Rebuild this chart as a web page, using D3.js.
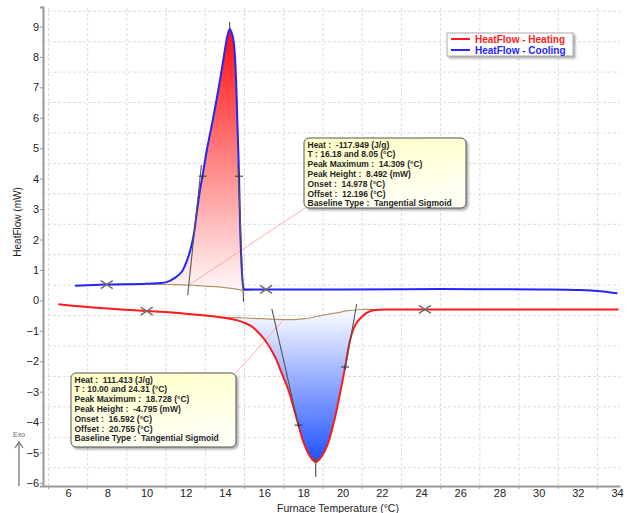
<!DOCTYPE html>
<html>
<head>
<meta charset="utf-8">
<script src="https://cdn.jsdelivr.net/npm/d3@7"></script>
<style>
  body { margin: 0; background: #fff; }
  text { font-family: "Liberation Sans", Arial, sans-serif; }
</style>
</head>
<body>
<div id="graphic"></div>
<script>
// DSC heat flow chart, heating + cooling

var W = 627, H = 513;
var margin = { top: 7, right: 7, bottom: 27, left: 43 };

// axis data
var xMin = 4.72, xMax = 34.15, yMin = -6.1, yMax = 9.64;
var xLabelTicks = [6, 8, 10, 12, 14, 16, 18, 20, 22, 24, 26, 28, 30, 32, 34];
var xGridTicks = [5, 7, 9, 11, 13, 15, 17, 19, 21, 23, 25, 27, 29, 31, 33];
var yLabelTicks = [-6, -5, -4, -3, -2, -1, 0, 1, 2, 3, 4, 5, 6, 7, 8, 9];
var yGridTicks = [-5.5, -4.5, -3.5, -2.5, -1.5, -0.5, 0.5, 1.5, 2.5, 3.5, 4.5, 5.5, 6.5, 7.5, 8.5, 9.5];

// cooling curve (blue)
var coolT = [6.35, 7.97, 9.98, 11.03, 11.45, 11.8, 12.13, 12.39, 12.56, 12.73, 12.86, 13.08, 13.38, 13.69, 13.97, 14.12, 14.24,
  14.27, 14.40, 14.50, 14.58, 14.63, 14.68, 14.72, 14.78, 14.86, 14.92, 14.98, 15.2, 16.1, 20, 25, 30.08, 32.12, 33.14, 34.02];
var coolHF = [0.48, 0.52, 0.55, 0.6, 0.74, 0.94, 1.43, 2.09, 2.86, 3.63, 4.1, 4.95, 5.93, 7.02, 8.12, 8.67, 8.92,
  8.9, 8.67, 8.12, 7.02, 5.93, 4.94, 4.08, 2.3, 1.0, 0.5, 0.37, 0.36, 0.36, 0.36, 0.37, 0.36, 0.34, 0.30, 0.23];
var coolBaseT = [7.97, 10.0, 11.5, 12.5, 13.3, 14.0, 14.6, 14.95, 15.5, 16.1];
var coolBaseHF = [0.52, 0.53, 0.52, 0.49, 0.46, 0.42, 0.37, 0.33, 0.35, 0.36];

// heating curve (red)
var heatT = [5.5, 7.0, 8.5, 10.01, 11.88, 13.58, 14.6, 15.28, 15.54, 16.05, 16.56, 16.9, 17.24, 17.49, 17.75, 18.0, 18.26, 18.46,
  18.63, 18.85, 19.11, 19.36, 19.62, 19.87, 20.13, 20.38, 20.64, 20.98, 21.32, 21.66, 22.5, 24.2, 28, 34.07];
var heatHF = [-0.13, -0.22, -0.29, -0.35, -0.43, -0.54, -0.65, -0.82, -0.95, -1.31, -1.86, -2.40, -2.95, -3.5, -4.1, -4.65, -5.04, -5.23,
  -5.31, -5.2, -4.93, -4.49, -3.83, -3.06, -2.19, -1.31, -0.82, -0.54, -0.38, -0.32, -0.3, -0.3, -0.3, -0.3];
var heatBaseT = [10.01, 12.0, 13.6, 14.6, 15.5, 16.5, 17.5, 18.1, 18.9, 19.6, 20.3, 20.9, 21.7, 24.2];
var heatBaseHF = [-0.35, -0.44, -0.54, -0.57, -0.59, -0.62, -0.63, -0.6, -0.5, -0.42, -0.34, -0.30, -0.30, -0.30];

// peak analysis marks
var limitMarks = [[7.97, 0.52], [16.1, 0.36], [10.01, -0.35], [24.2, -0.3]];
var inflMarks = [[12.86, 4.08], [14.72, 4.08], [17.75, -4.1], [20.13, -2.19]];
var tangents = [
  [[12.10, 0.17], [12.80, 4.45]],
  [[14.95, -0.05], [14.66, 4.5]],
  [[16.39, -0.27], [17.78, -4.2]],
  [[20.72, -0.12], [20.12, -2.3]]
];
var peakTicks = [[14.24, 8.92, 9.15], [18.63, -5.1, -5.8]];

var coolText = ["Heat :  -117.949 (J/g)", "T : 16.18 and 8.05 (°C)", "Peak Maximum :  14.309 (°C)", "Peak Height :  8.492 (mW)",
  "Onset :  14.978 (°C)", "Offset :  12.196 (°C)", "Baseline Type :  Tangential Sigmoid"];
var heatText = ["Heat :  111.413 (J/g)", "T : 10.00 and 24.31 (°C)", "Peak Maximum :  18.728 (°C)", "Peak Height :  -4.795 (mW)",
  "Onset :  16.592 (°C)", "Offset :  20.755 (°C)", "Baseline Type :  Tangential Sigmoid"];
var seriesNames = ["HeatFlow - Heating", "HeatFlow - Cooling"];
var seriesColors = ["#ff1a1a", "#2424ff"];

var svg = d3.select("#graphic").append("svg")
  .attr("width", W)
  .attr("height", H);

var x = d3.scaleLinear().domain([xMin, xMax]).range([margin.left, W - margin.right]);
var y = d3.scaleLinear().domain([yMin, yMax]).range([H - margin.bottom, margin.top]);

var defs = svg.append("defs");

var g1 = defs.append("linearGradient").attr("id", "coolFill")
  .attr("gradientUnits", "userSpaceOnUse")
  .attr("x1", 0).attr("x2", 0).attr("y1", y(8.92)).attr("y2", y(0.4));
g1.append("stop").attr("offset", 0).attr("stop-color", "#ff0d0d");
g1.append("stop").attr("offset", 1).attr("stop-color", "#fff6f6");

var g2 = defs.append("linearGradient").attr("id", "heatFill")
  .attr("gradientUnits", "userSpaceOnUse")
  .attr("x1", 0).attr("x2", 0).attr("y1", y(-0.45)).attr("y2", y(-5.31));
g2.append("stop").attr("offset", 0).attr("stop-color", "#f6f8ff");
g2.append("stop").attr("offset", 1).attr("stop-color", "#1f50ff");

var g3 = defs.append("linearGradient").attr("id", "boxFill")
  .attr("x1", 0).attr("x2", 0.3).attr("y1", 0).attr("y2", 1);
g3.append("stop").attr("offset", 0).attr("stop-color", "#ffffc4");
g3.append("stop").attr("offset", 1).attr("stop-color", "#fffff4");

var shadow = defs.append("filter").attr("id", "shadow")
  .attr("x", "-10%").attr("y", "-10%").attr("width", "130%").attr("height", "140%");
shadow.append("feDropShadow").attr("dx", 2).attr("dy", 2).attr("stdDeviation", 1)
  .attr("flood-color", "#777").attr("flood-opacity", 0.6);

// grid
svg.append("g").selectAll("line").data(xGridTicks).enter().append("line")
  .attr("x1", function (d) { return x(d); }).attr("x2", function (d) { return x(d); })
  .attr("y1", y(yMin)).attr("y2", y(yMax))
  .attr("stroke", "#dcdcdc").attr("stroke-dasharray", "3,2");
svg.append("g").selectAll("line").data(yGridTicks).enter().append("line")
  .attr("x1", x(xMin)).attr("x2", x(xMax))
  .attr("y1", function (d) { return y(d); }).attr("y2", function (d) { return y(d); })
  .attr("stroke", "#dcdcdc").attr("stroke-dasharray", "3,2");

function zip(ts, vs) {
  return ts.map(function (t, i) { return [t, vs[i]]; });
}
var cool = zip(coolT, coolHF), heat = zip(heatT, heatHF);
var coolBase = zip(coolBaseT, coolBaseHF), heatBase = zip(heatBaseT, heatBaseHF);

var line = d3.line()
  .x(function (d) { return x(d[0]); })
  .y(function (d) { return y(d[1]); })
  .curve(d3.curveCatmullRom.alpha(0.5));

function peakArea(curve, base) {
  var lo = base[0][0], hi = base[base.length - 1][0];
  var seg = curve.filter(function (d) { return d[0] >= lo && d[0] <= hi; });
  var back = base.slice().reverse();
  return line(seg) + "L" + line(back).slice(1) + "Z";
}

// peak fills
svg.append("path").attr("d", peakArea(cool, coolBase)).attr("fill", "url(#coolFill)");
svg.append("path").attr("d", peakArea(heat, heatBase)).attr("fill", "url(#heatFill)");

// baselines
[coolBase, heatBase].forEach(function (b) {
  svg.append("path").attr("d", line(b))
    .attr("fill", "none").attr("stroke", "#b8926a").attr("stroke-width", 1.2);
});

// leader lines to the boxes
svg.append("line")
  .attr("x1", x(12.15)).attr("y1", y(0.5)).attr("x2", 305).attr("y2", 208)
  .attr("stroke", "#ff8c8c").attr("stroke-width", 0.7);
svg.append("line")
  .attr("x1", x(16.96)).attr("y1", y(-0.66)).attr("x2", 235).attr("y2", 374)
  .attr("stroke", "#ff8c8c").attr("stroke-width", 0.7);

// curves
svg.append("path").attr("d", line(heat))
  .attr("fill", "none").attr("stroke", seriesColors[0]).attr("stroke-width", 2);
svg.append("path").attr("d", line(cool))
  .attr("fill", "none").attr("stroke", seriesColors[1]).attr("stroke-width", 2);

// tangents
svg.append("g").selectAll("line").data(tangents).enter().append("line")
  .attr("x1", function (d) { return x(d[0][0]); }).attr("y1", function (d) { return y(d[0][1]); })
  .attr("x2", function (d) { return x(d[1][0]); }).attr("y2", function (d) { return y(d[1][1]); })
  .attr("stroke", "#555").attr("stroke-width", 1.1);

// peak ticks
svg.append("g").selectAll("line").data(peakTicks).enter().append("line")
  .attr("x1", function (d) { return x(d[0]); }).attr("x2", function (d) { return x(d[0]); })
  .attr("y1", function (d) { return y(d[1]); }).attr("y2", function (d) { return y(d[2]); })
  .attr("stroke", "#555").attr("stroke-width", 1.2);

// inflection marks
var inf = svg.append("g").attr("stroke", "#333").attr("stroke-width", 1);
inflMarks.forEach(function (d) {
  inf.append("line").attr("x1", x(d[0]) - 4).attr("x2", x(d[0]) + 4).attr("y1", y(d[1])).attr("y2", y(d[1]));
  inf.append("line").attr("x1", x(d[0])).attr("x2", x(d[0])).attr("y1", y(d[1]) - 2).attr("y2", y(d[1]) + 2);
});

// integration limits
var lim = svg.append("g").attr("stroke", "#6e6e6e").attr("stroke-width", 1.5);
limitMarks.forEach(function (d) {
  var cx = x(d[0]), cy = y(d[1]);
  lim.append("line").attr("x1", cx - 6).attr("y1", cy - 4).attr("x2", cx + 6).attr("y2", cy + 4);
  lim.append("line").attr("x1", cx - 6).attr("y1", cy + 4).attr("x2", cx + 6).attr("y2", cy - 4);
});

// axes
var xAxis = svg.append("g")
  .attr("transform", "translate(0," + y(yMin) + ")")
  .call(d3.axisBottom(x).tickValues(xLabelTicks).tickSize(0).tickPadding(3).tickFormat(d3.format("d")));
svg.append("g").selectAll("line").data(xGridTicks).enter().append("line")
  .attr("x1", function (d) { return x(d); }).attr("x2", function (d) { return x(d); })
  .attr("y1", y(yMin)).attr("y2", y(yMin) + 3)
  .attr("stroke", "#999");
var yAxis = svg.append("g")
  .attr("transform", "translate(" + x(xMin) + ",0)")
  .call(d3.axisLeft(y).tickValues(yLabelTicks).tickSize(3).tickPadding(1).tickFormat(d3.format("d")));
[xAxis, yAxis].forEach(function (a) {
  a.select(".domain").attr("stroke", "#9a9a9a").attr("stroke-width", 2);
  a.selectAll(".tick line").attr("stroke", "#999");
  a.selectAll("text").attr("font-size", 11).attr("fill", "#222")
    .attr("font-family", "Liberation Sans, Arial, sans-serif");
});

svg.append("text")
  .attr("x", 338).attr("y", 511.5)
  .attr("text-anchor", "middle").attr("font-size", 10.5).attr("fill", "#222")
  .text("Furnace Temperature (°C)");
svg.append("text")
  .attr("transform", "translate(21,222) rotate(-90)")
  .attr("text-anchor", "middle").attr("font-size", 10).attr("fill", "#222")
  .text("HeatFlow (mW)");

// Exo arrow
svg.append("line").attr("x1", 19).attr("x2", 19).attr("y1", 486).attr("y2", 443)
  .attr("stroke", "#777").attr("stroke-width", 1.3);
svg.append("path").attr("d", "M15,448 L19,442 L23,448")
  .attr("fill", "none").attr("stroke", "#777").attr("stroke-width", 1.3);
svg.append("text").attr("x", 19).attr("y", 437).attr("text-anchor", "middle")
  .attr("font-size", 7).attr("fill", "#666").text("Exo");

// annotation boxes
function infoBox(bx, by, bw, bh, lines) {
  var b = svg.append("g");
  b.append("rect").attr("x", bx).attr("y", by).attr("width", bw).attr("height", bh)
    .attr("rx", 5).attr("fill", "url(#boxFill)").attr("stroke", "#555")
    .attr("filter", "url(#shadow)");
  b.selectAll("text").data(lines).enter().append("text")
    .attr("x", bx + 3.5).attr("y", function (d, i) { return by + 9.5 + i * 9.8; })
    .attr("font-size", 8.5).attr("font-weight", "bold").attr("fill", "#262626")
    .style("white-space", "pre")
    .text(function (d) { return d; });
}
infoBox(304, 138, 162, 70, coolText);
infoBox(71, 373, 165, 74, heatText);

// legend
var leg = svg.append("g");
leg.append("rect").attr("x", 447).attr("y", 33).attr("width", 126).attr("height", 23)
  .attr("fill", "#fff").attr("stroke", "#aaa").attr("filter", "url(#shadow)");
seriesNames.forEach(function (name, i) {
  var ly = 39 + i * 11;
  leg.append("line").attr("x1", 451).attr("x2", 470).attr("y1", ly).attr("y2", ly)
    .attr("stroke", seriesColors[i]).attr("stroke-width", 2);
  leg.append("text").attr("x", 475).attr("y", ly + 3.5)
    .attr("font-size", 10).attr("font-weight", "bold").attr("fill", seriesColors[i])
    .text(name);
});
</script>
</body>
</html>
